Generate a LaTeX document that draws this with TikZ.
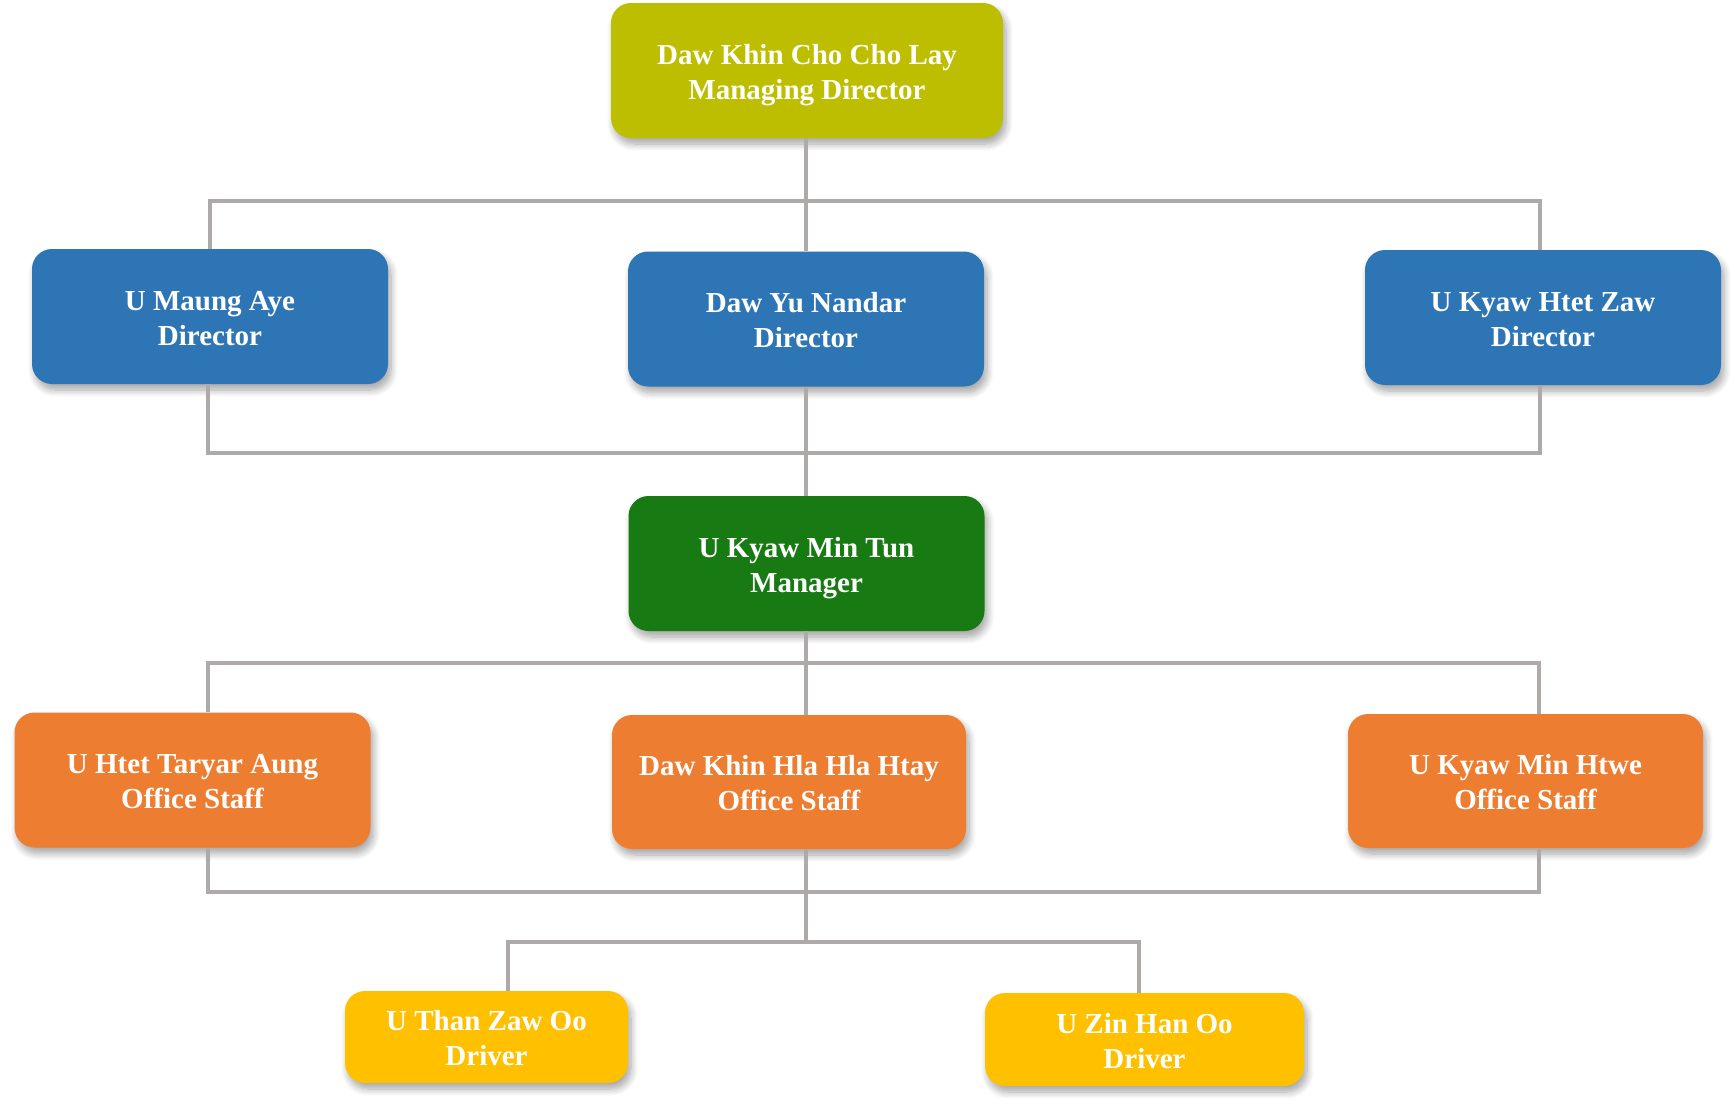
\documentclass[tikz,border=0pt]{standalone}
\usepackage{fontspec}
\setmainfont{Liberation Serif}
\usetikzlibrary{shadows.blur}
\definecolor{cMD}{HTML}{BDBE00}
\definecolor{cDir}{HTML}{2E75B6}
\definecolor{cMgr}{HTML}{177A12}
\definecolor{cStaff}{HTML}{ED7D31}
\definecolor{cDrv}{HTML}{FFC000}
\definecolor{lineg}{HTML}{AEAAAA}
\newcommand{\twolines}[2]{\raisebox{-4pt}[\height][\depth]{\begin{tabular}{@{}c@{}}#1\\#2\end{tabular}}}
\begin{document}
\begin{tikzpicture}[x=1pt,y=-1pt,
  box/.style={rectangle, rounded corners=20pt, text=white,
    font=\bfseries\fontsize{29}{35}\selectfont, inner sep=0pt,
    blur shadow={shadow xshift=3pt, shadow yshift=-6pt, shadow blur radius=7pt, shadow blur steps=8, shadow opacity=35}},
  big/.style={box, minimum width=356pt, minimum height=135pt},
  conn/.style={draw=lineg, line width=4pt}]
\useasboundingbox (0,0) rectangle (1735,1104);

% nodes
\node[box, fill=cMD, minimum width=392pt, minimum height=135pt] (md) at (807,70.5) {\twolines{Daw Khin Cho Cho Lay}{Managing Director}};
\node[big, fill=cDir] (d1) at (210,316.5) {\twolines{U Maung Aye}{Director}};
\node[big, fill=cDir] (d2) at (806,319) {\twolines{Daw Yu Nandar}{Director}};
\node[big, fill=cDir] (d3) at (1543,317.5) {\twolines{U Kyaw Htet Zaw}{Director}};
\node[big, fill=cMgr] (mgr) at (806.5,563.5) {\twolines{U Kyaw Min Tun}{Manager}};
\node[big, fill=cStaff] (s1) at (192.5,780) {\twolines{U Htet Taryar Aung}{Office Staff}};
\node[big, fill=cStaff, minimum width=354pt, minimum height=134pt] (s2) at (789,782) {\twolines{Daw Khin Hla Hla Htay}{Office Staff}};
\node[big, fill=cStaff, minimum width=355pt, minimum height=134pt] (s3) at (1525.5,781) {\twolines{U Kyaw Min Htwe}{Office Staff}};
\node[box, fill=cDrv, minimum width=283pt, minimum height=92pt] (dr1) at (486.5,1037) {\twolines{U Than Zaw Oo}{Driver}};
\node[box, fill=cDrv, minimum width=319pt, minimum height=93pt] (dr2) at (1144.5,1039.5) {\twolines{U Zin Han Oo}{Driver}};

% junction coordinates
\coordinate (b1) at (806,201);
\coordinate (b2) at (806,453);
\coordinate (b3) at (806,663);
\coordinate (b4) at (806,892);
\coordinate (b5) at (806,942);

% connectors
\draw[conn] (md.south -| b1) -- (b1);
\draw[conn] (d1.north) |- (b1) -| ([xshift=-3pt]d3.north);
\draw[conn] (b1) -- (d2.north);
\draw[conn] ([xshift=-2pt]d1.south) |- (b2) -| ([xshift=-3pt]d3.south);
\draw[conn] (d2.south) -- (mgr.north -| d2.south);
\draw[conn] (mgr.south -| b3) -- (b3);
\draw[conn] ([xshift=15.5pt]s1.north) |- (b3) -| ([xshift=13.5pt]s3.north);
\draw[conn] (b3) -- (s2.north -| b3);
\draw[conn] ([xshift=15.5pt]s1.south) |- (b4) -| ([xshift=13.5pt]s3.south);
\draw[conn] (s2.south -| b3) -- (b5);
\draw[conn] ([xshift=21.5pt]dr1.north) |- (b5) -| ([xshift=-5.5pt]dr2.north);
\end{tikzpicture}
\end{document}
